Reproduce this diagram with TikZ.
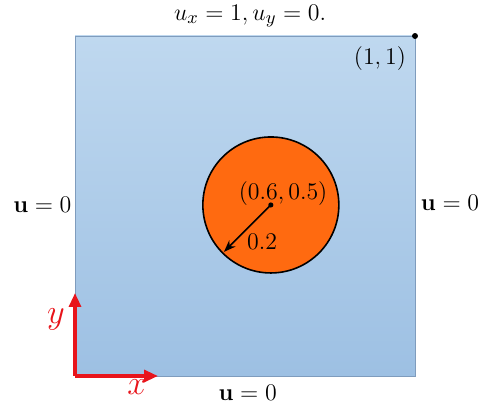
\documentclass[tikz,border=0pt]{standalone}
\usepackage{amsmath, bm}
\usetikzlibrary{arrows.meta, positioning, calc}
\definecolor{DomTop}{HTML}{BFD8EF}
\definecolor{DomBot}{HTML}{9DC0E3}
\definecolor{DomEdge}{HTML}{7F9CBD}
\definecolor{CylOrange}{HTML}{FF6A10}
\definecolor{AxisRed}{HTML}{E8141B}
\begin{document}
\begin{tikzpicture}[x=6cm, y=6cm, font=\large,
   bclabel/.style={inner sep=1pt},
   biglabel/.style={inner sep=1pt, font=\fontsize{13.2}{16}\selectfont},
   axisarrow/.style={-{Triangle[length=7pt, width=6pt]}, AxisRed, line width=1.6pt}]
            \useasboundingbox (-0.2206,-0.0794) rectangle (1.1941,1.1059);
            % Domain
            \shade[top color=DomTop, bottom color=DomBot, draw=DomEdge, thin]
               (0,0) rectangle (1,1);
            % Cylinder
            \coordinate (cyl) at (0.576,0.503);
            \draw[fill=CylOrange, thick] (cyl) circle (0.2);
            \fill (cyl) circle (1.3pt);
            \coordinate (rim) at ($(cyl)+(225:0.195)$);
            \draw[-{Stealth[length=6pt]}, thick] (cyl) -- (rim);
            \node[bclabel] (center) at (0.612,0.538) {$(0.6,0.5)$};
            \node[bclabel] (rad) at (0.55,0.394) {$0.2$};
            % Corner point
            \fill (1,1) circle (1.5pt);
            \node[biglabel] (corner) at (0.897,0.933) {$(1,1)$};
            % Boundary conditions
            \node[biglabel] (top) at (0.515,1.059) {$u_x=1, u_y=0.$};
            \node[bclabel] (left) at (-0.096,0.503) {$\mathbf{u}=0$};
            \node[bclabel] (right) at (1.103,0.509) {$\mathbf{u}=0$};
            \node[bclabel] (bottom) at (0.508,-0.05) {$\mathbf{u}=0$};
            % Axes
            \coordinate (O) at (0,0);
            \coordinate (xend) at (0.244,0);
            \coordinate (yend) at (0,0.244);
            \draw[axisarrow] (O) -- (xend);
            \draw[axisarrow] (O) -- (yend);
            \node[AxisRed, font=\LARGE] (xlab) at (0.182,-0.032) {$x$};
            \node[AxisRed, font=\LARGE] (ylab) at (-0.056,0.165) {$y$};
         \end{tikzpicture}
\end{document}
